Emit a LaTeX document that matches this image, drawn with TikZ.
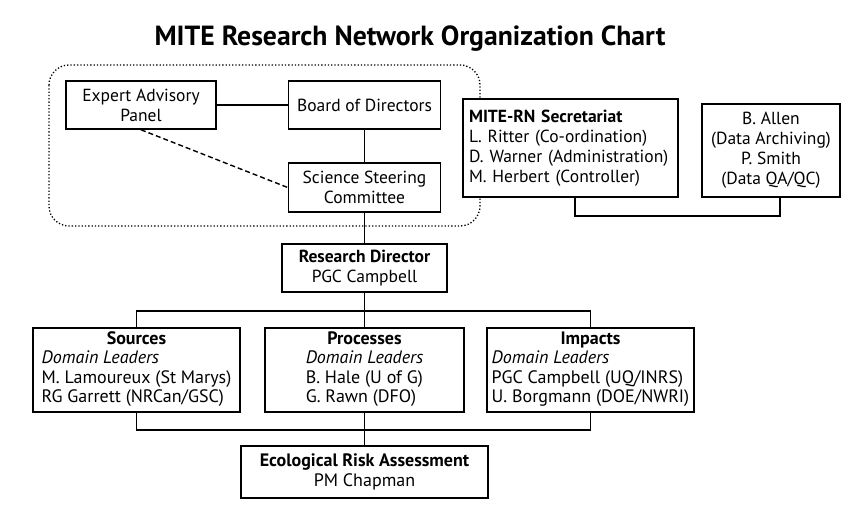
\documentclass[tikz,border=0pt]{standalone}
\usepackage{fontspec}
\setmainfont{PT Sans}
\newcommand{\leftblock}[1]{\begin{tabular}[t]{@{}l@{}}#1\end{tabular}}
\begin{document}
\begin{tikzpicture}[x=1pt,y=-1pt,
  box/.style={draw=black,line width=1.6pt,fill=white,align=center,inner sep=0pt,
    font=\fontsize{17.5}{20}\selectfont},
  lbox/.style={box,font=\fontsize{18}{19.5}\selectfont},
  lnk/.style={line width=1.6pt},
  dlnk/.style={line width=1.4pt,dash pattern=on 5pt off 3pt}]
\useasboundingbox (0,0) rectangle (850,508);
\node[font=\fontsize{27.7}{32}\bfseries\selectfont] (title) at (410,39) {MITE Research Network Organization Chart};
% dotted group
\draw[line width=1.3pt,dotted,rounded corners=20pt] (49,65) rectangle (480,226);
\node[box,minimum width=150pt,minimum height=48pt] (eap) at (141,105) {Expert Advisory\\Panel};
\node[box,minimum width=152pt,minimum height=48pt] (bod) at (364.5,105) {Board of Directors};
\node[box,minimum width=152pt,minimum height=49pt] (ssc) at (364.5,187.5) {Science Steering\\Committee};
\node[box,minimum width=215pt,minimum height=98pt,text width=203pt,align=left] (sec) at (570.5,148)
  {\textbf{MITE-RN Secretariat}\\L. Ritter (Co-ordination)\\D. Warner (Administration)\\M. Herbert (Controller)};
\node[box,minimum width=138pt,minimum height=93pt] (data) at (771,150.5)
  {B. Allen\\(Data Archiving)\\P. Smith\\(Data QA/QC)};
\node[box,minimum width=165pt,minimum height=48pt] (rd) at (364.5,268)
  {\textbf{Research Director}\\PGC Campbell};
\node[lbox,minimum width=207pt,minimum height=84pt] (src) at (136.5,370)
  {\textbf{Sources}\\\leftblock{\textit{Domain Leaders}\\M. Lamoureux (St Marys)\\RG Garrett (NRCan/GSC)}};
\node[lbox,minimum width=199pt,minimum height=84pt] (proc) at (364.5,370)
  {\textbf{Processes}\\\leftblock{\textit{Domain Leaders}\\B. Hale (U of G)\\G. Rawn (DFO)}};
\node[lbox,minimum width=207pt,minimum height=84pt] (imp) at (590.5,370)
  {\textbf{Impacts}\\\leftblock{\textit{Domain Leaders}\\PGC Campbell (UQ/INRS)\\U. Borgmann (DOE/NWRI)}};
\node[lbox,minimum width=247pt,minimum height=52pt] (era) at (364.5,472)
  {\textbf{Ecological Risk Assessment}\\PM Chapman};
% connectors
\draw[lnk] (eap.east) -- (bod.west);
\draw[lnk] (bod.south) -- (ssc.north);
\draw[dlnk] (eap.south) -- (ssc.west);
\draw[lnk] (ssc.south) -- (rd.north);
\draw[lnk] ([xshift=4.5pt]sec.south) -- ++(0,18) -| ([xshift=9pt]data.south);
\draw[lnk] (rd.south) -- (proc.north);
\draw[lnk] (src.north) -- ++(0,-16) -| (imp.north);
\draw[lnk] (proc.south) -- (era.north);
\draw[lnk] (src.south) -- ++(0,17) -| (imp.south);
\end{tikzpicture}
\end{document}
